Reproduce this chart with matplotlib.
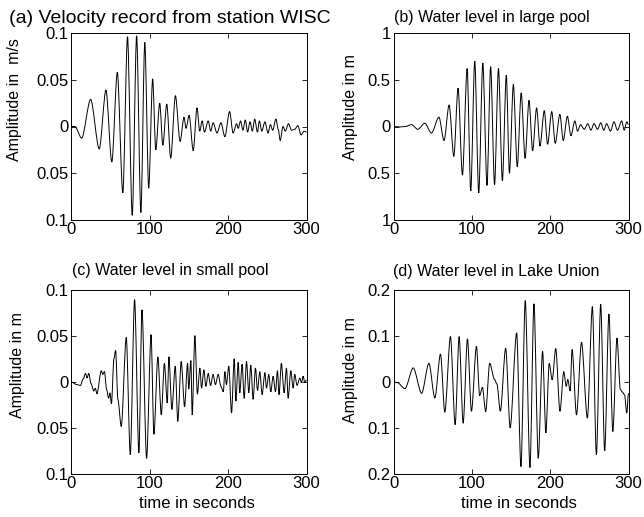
import matplotlib
matplotlib.use("Agg")
import matplotlib.pyplot as plt
from matplotlib.path import Path
from matplotlib.patches import PathPatch

plt.rcParams["font.family"] = ["Liberation Sans", "DejaVu Sans"]

# (a) velocity record, extrema (time s, amplitude m/s)
t_a = [0, 5, 13.6, 25, 36, 44.5, 52, 59, 66, 72, 78, 83.6, 89, 94, 99, 104, 108,
       113, 117, 122, 127, 133, 139, 144, 146.5, 150.5, 155.7, 160.5, 164, 167,
       170, 174.8, 178, 181, 186, 191, 196, 202, 206.5, 211, 213, 216, 219, 222,
       225, 228, 231, 234, 237.5, 240, 243, 247, 251, 254, 257, 261, 264, 266.5,
       270, 273, 277, 281, 285, 289, 293, 297, 300]
v_a = [0, 0.0, -0.0125, 0.029, -0.024, 0.039, -0.038, 0.058, -0.071, 0.096,
       -0.095, 0.097, -0.092, 0.09, -0.066, 0.051, -0.025, 0.025, -0.02, 0.024,
       -0.034, 0.033, -0.016, 0.01, -0.002, 0.012, -0.026, 0.02, -0.005, 0.006,
       -0.006, 0.006, -0.005, 0.004, -0.007, 0.004, -0.011, 0.016, -0.007, 0.003,
       -0.002, 0.006, -0.004, 0.007, -0.006, 0.005, -0.005, 0.008, -0.006, 0.006,
       -0.005, 0.005, -0.007, 0.002, -0.004, 0.008, -0.003, -0.015, 0.0, -0.005,
       0.003, -0.004, -0.003, 0.001, -0.009, -0.005, -0.006]

# (b) large pool water level (m)
t_b = [0, 8, 15, 23, 31, 40, 48.4, 58, 64.5, 71, 77, 82.4, 88, 94, 98.6, 103.7,
       108.8, 114, 119.4, 124, 129, 134, 139, 144, 148, 153, 158, 163, 168, 173,
       177.6, 182.7, 187, 192.5, 196.7, 202, 206.5, 212.4, 216.7, 222, 226.5,
       231.5, 235, 238.8, 243.5, 248, 252, 256, 260.5, 264.6, 268.5, 272, 277,
       281.5, 286, 291.3, 294.5, 297.8, 300]
v_b = [0, -0.005, 0.0, 0.02, -0.03, 0.035, -0.07, 0.1, -0.15, 0.23, -0.32, 0.41,
       -0.52, 0.62, -0.69, 0.70, -0.71, 0.68, -0.63, 0.64, -0.62, 0.62, -0.58,
       0.55, -0.50, 0.45, -0.43, 0.36, -0.34, 0.28, -0.26, 0.20, -0.21, 0.17,
       -0.19, 0.16, -0.18, 0.13, -0.15, 0.11, -0.10, 0.06, -0.05, 0.02, -0.03,
       0.03, -0.04, 0.03, -0.03, 0.04, -0.04, 0.03, -0.05, 0.05, -0.04, 0.06,
       -0.04, 0.05, 0.02]

# (c) small pool water level (m)
t_c = [0, 7, 12, 15.5, 18.5, 20.5, 22.6, 25.5, 29, 31, 33, 38.6, 40.5, 42.6,
       45.5, 48, 49.6, 51.5, 54.7, 56.8, 59.8, 64, 70.4, 75.5, 81, 86.5, 90.4,
       96.3, 102, 105.6, 110.7, 115, 119, 122.6, 124.7, 128.5, 132.8, 136, 140.4,
       144.7, 148.5, 150, 152.7, 154.4, 157.8, 161, 164.2, 166.3, 169.3, 171.8,
       174.8, 177.8, 181, 184, 187.5, 191, 194, 196, 198, 201, 204.5, 207.9, 210,
       213, 215, 218, 220.6, 223.6, 226.5, 229, 232, 235, 237.6, 240.5, 243.5,
       247, 249, 252, 254.5, 257.5, 260.5, 263, 265, 268, 271.5, 274.5, 276.6,
       280, 283, 285, 288, 291.5, 293.6, 295.7, 297.8, 300]
v_c = [0, -0.003, -0.004, 0.003, 0.009, 0.004, 0.009, -0.002, -0.010, -0.007,
       -0.013, 0.012, 0.008, 0.011, -0.009, -0.018, -0.012, -0.024, 0.025, 0.034,
       -0.0195, -0.0485, 0.048, -0.079, 0.089, -0.077, 0.078, -0.083, 0.051,
       -0.057, 0.027, -0.036, 0.02, -0.023, 0.027, -0.03, 0.017, -0.043, 0.022,
       -0.027, 0.02, -0.008, 0.023, -0.036, 0.05, -0.0135, 0.015, -0.007, 0.013,
       -0.005, 0.009, -0.004, 0.008, -0.003, 0.008, -0.005, -0.011, 0.011,
       -0.003, 0.017, -0.034, 0.025, -0.021, 0.021, -0.012, 0.019, -0.018, 0.022,
       -0.012, 0.018, -0.019, 0.015, -0.0095, 0.011, -0.014, 0.01, -0.007, 0.008,
       -0.011, 0.006, -0.011, 0.012, -0.014, 0.02, -0.012, 0.015, -0.018, 0.012,
       -0.007, 0.008, -0.004, 0.004, -0.001, 0.006, -0.001, 0.002]

# (d) Lake Union water level (m)
t_d = [0, 5, 14.6, 25.2, 35.9, 45.2, 52.8, 60, 65.5, 72.7, 78.7, 83.8, 88.9,
       94.4, 99.5, 105.9, 110, 113.5, 117.7, 122.8, 129, 132, 136.4, 143.2,
       148.9, 157.2, 162.7, 168.2, 174.2, 179.3, 184.8, 190.3, 194.5, 198.8,
       202.6, 207.1, 212.5, 217.4, 220.5, 222.5, 225.5, 228, 233.6, 240, 247.5,
       253.9, 259, 264.5, 269.6, 275, 280, 285.3, 289.6, 292, 294.9, 297.8, 300]
v_d = [0, -0.002, -0.015, 0.03, -0.025, 0.04, -0.035, 0.06, -0.066, 0.098,
       -0.093, 0.098, -0.09, 0.093, -0.064, 0.077, -0.03, -0.012, -0.065, 0.04,
       0.005, -0.005, -0.064, 0.073, -0.10, 0.106, -0.184, 0.176, -0.186, 0.169,
       -0.166, 0.066, -0.111, 0.04, 0.004, 0.072, -0.064, 0.022, -0.01, 0.005,
       -0.02, 0.07, -0.072, 0.086, -0.079, 0.163, -0.158, 0.168, -0.15, 0.147,
       -0.108, 0.095, -0.017, -0.022, -0.028, -0.068, -0.025]

titles = ["(a) Velocity record from station WISC", "(b) Water level in large pool",
          "(c) Water level in small pool", "(d) Water level in Lake Union"]
ylabels = ["Amplitude in  m/s", "Amplitude in m", "Amplitude in m", "Amplitude in m"]
yticks_a = [-0.1, -0.05, 0, 0.05, 0.1]
yticks_b = [-1, -0.5, 0, 0.5, 1]
yticks_d = [-0.2, -0.1, 0, 0.1, 0.2]
ytick_labels_a = ["0.1", "0.05", "0", "0.05", "0.1"]
ytick_labels_b = ["1", "0.5", "0", "0.5", "1"]
ytick_labels_d = ["0.2", "0.1", "0", "0.1", "0.2"]
xticks = [0, 100, 200, 300]

W, H = 644, 517
fig = plt.figure(figsize=(W / 100, H / 100), dpi=100)


def px_axes(left, top, right, bottom):
    return fig.add_axes([left / W, 1 - bottom / H, (right - left) / W, (bottom - top) / H])


def wave_path(t, v, handle=0.3):
    # smooth curve through the read extrema, flat tangent at each one
    verts = [(t[0], v[0])]
    codes = [Path.MOVETO]
    for i in range(len(t) - 1):
        d = (t[i + 1] - t[i]) * handle
        verts += [(t[i] + d, v[i]), (t[i + 1] - d, v[i + 1]), (t[i + 1], v[i + 1])]
        codes += [Path.CURVE4] * 3
    return Path(verts, codes)


panels = [
    (px_axes(71, 33, 306.5, 220), t_a, v_a, yticks_a, ytick_labels_a),
    (px_axes(393.5, 33, 628.5, 220), t_b, v_b, yticks_b, ytick_labels_b),
    (px_axes(71, 289.5, 306.5, 474), t_c, v_c, yticks_a, ytick_labels_a),
    (px_axes(393.5, 289.5, 628.5, 474), t_d, v_d, yticks_d, ytick_labels_d),
]

for ax, t, v, yt, ytl in panels:
    ax.add_patch(PathPatch(wave_path(t, v), fill=False, edgecolor="black", linewidth=0.7))
    ax.set_xlim(0, 300)
    ax.set_ylim(yt[0], yt[-1])
    ax.set_xticks(xticks)
    ax.set_xticklabels([str(x) for x in xticks])
    ax.set_yticks(yt)
    ax.set_yticklabels(ytl)
    ax.tick_params(direction="in", top=True, right=True, length=3.5, width=0.6,
                   labelsize=12, pad=2)
    ax.tick_params(axis="x", pad=1.5)
    for spine in ax.spines.values():
        spine.set_linewidth(0.7)

# titles (left edge px, baseline px, size)
title_pos = [(9, 23, 14), (393.5, 22, 11.5), (72, 275, 11.5), (393, 276, 11.5)]
for s, (x, y, fs) in zip(titles, title_pos):
    fig.text(x / W, 1 - y / H, s, ha="left", va="baseline", fontsize=fs)

# y labels (centre x px, bottom y px)
ylabel_pos = [(15, 161), (350, 160), (18, 418), (350, 423)]
for s, (x, y) in zip(ylabels, ylabel_pos):
    fig.text(x / W, 1 - y / H, s, ha="center", va="bottom", rotation=90, fontsize=11.5)

for x in (197, 518.5):
    fig.text(x / W, 1 - 504 / H, "time in seconds", ha="center", va="center", fontsize=12)

fig.savefig("out.png", dpi=100)
